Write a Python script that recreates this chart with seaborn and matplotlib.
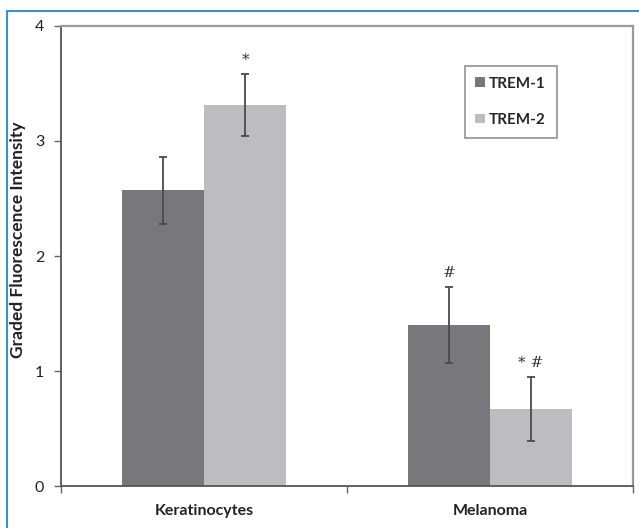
import numpy as np
import pandas as pd
import matplotlib
matplotlib.use('Agg')
import matplotlib.pyplot as plt
from matplotlib.lines import Line2D
import seaborn as sns

# data
cells = ['Keratinocytes', 'Melanoma']
receptors = ['TREM-1', 'TREM-2']
trem1_mean = [2.57, 1.40]
trem2_mean = [3.31, 0.67]
trem1_err = [0.29, 0.33]
trem2_err = [0.27, 0.28]
trem1_marks = ['', '#']
trem2_marks = ['*', '* #']

colors = ['#78787c', '#bdbdc1']

df = pd.DataFrame({
    'cell': cells * 2,
    'receptor': [receptors[0]] * 2 + [receptors[1]] * 2,
    'value': trem1_mean + trem2_mean,
})
errs = trem1_err + trem2_err
marks = trem1_marks + trem2_marks

sns.set_style('white')
plt.rcParams['font.family'] = ['Lato', 'DejaVu Sans']

fig = plt.figure(figsize=(6.39, 5.28), dpi=100)
ax = fig.add_axes([0.0955, 0.0795, 0.895, 0.8713])

sns.barplot(data=df, x='cell', y='value', hue='receptor', order=cells,
            hue_order=receptors, palette=colors, width=0.575, gap=0,
            saturation=1, errorbar=None, ax=ax, linewidth=0)

# error bars + significance marks, placed on the bars seaborn drew
bars = [p for p in ax.patches if p.get_height() > 0][:4]
for bar, v, e, m in zip(bars, df['value'], errs, marks):
    cx = bar.get_x() + bar.get_width() / 2
    ax.errorbar(cx, v, yerr=e, fmt='none', ecolor='#4a4a4e', elinewidth=1.3,
                capsize=3, capthick=1.3)
    if m:
        ax.text(cx, v + e + 0.06, m, ha='center', va='bottom', fontsize=11,
                family=['DejaVu Serif'], color='#333333')

ax.set_xlim(-0.5, 1.5)
ax.set_ylim(0, 4)
ax.set_yticks([0, 1, 2, 3, 4])
ax.set_yticklabels(['0', '1', '2', '3', '4'], fontsize=11.5, color='#222222')
ax.tick_params(axis='y', direction='out', length=5, width=1, color='#666666',
               pad=7, left=True)
ax.set_xticks([0, 1])
ax.set_xticklabels(cells, fontsize=11.5, fontweight='bold', color='#222222')
ax.set_xticks([-0.5, 0.5, 1.5], minor=True)
ax.tick_params(axis='x', which='major', length=0, pad=13)
ax.tick_params(axis='x', which='minor', direction='out', length=5, width=1,
               color='#666666', bottom=True)
ax.set_xlabel('')
ax.set_ylabel('Graded Fluorescence Intensity', fontsize=12.5, fontweight='bold',
              color='#222222')
ax.yaxis.set_label_coords(-0.062, 0.535)

for side in ['left', 'bottom']:
    ax.spines[side].set_color('#555555')
    ax.spines[side].set_linewidth(1.3)
for side in ['top', 'right']:
    ax.spines[side].set_color('#9a9a9a')
    ax.spines[side].set_linewidth(1.6)

leg = ax.legend(loc='upper left', bbox_to_anchor=(0.706, 0.913), frameon=True,
                fancybox=False, edgecolor='#777777', prop={'weight': 'bold', 'size': 11},
                handlelength=0.6, handleheight=0.6, labelspacing=1.45,
                borderpad=0.7, handletextpad=0.3, borderaxespad=0)
leg.get_frame().set_linewidth(1.2)

# blue frame of the source page (top and left edges)
fig.add_artist(Line2D([7 / 639, 1], [1 - 11 / 528, 1 - 11 / 528],
                      transform=fig.transFigure, color='#3a8fd2', lw=1.5))
fig.add_artist(Line2D([7 / 639, 7 / 639], [0, 1 - 11 / 528],
                      transform=fig.transFigure, color='#3a8fd2', lw=1.5))

fig.savefig('out.png', dpi=100)
